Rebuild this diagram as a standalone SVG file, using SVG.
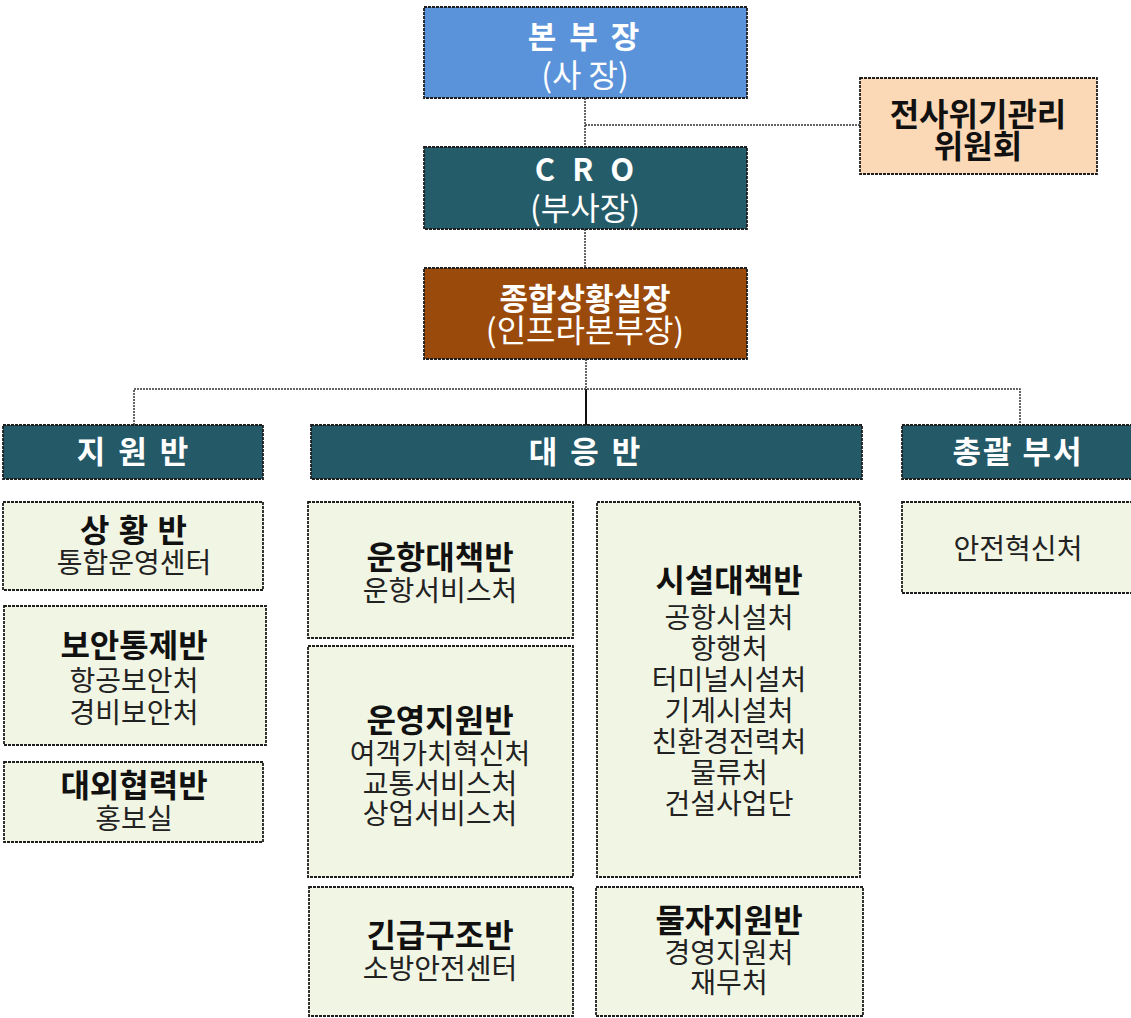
<svg xmlns="http://www.w3.org/2000/svg" width="1131" height="1018" viewBox="0 0 1131 1018">
<style>
  text { font-family: "Noto Sans CJK KR", "Noto Sans", "Liberation Sans", sans-serif; text-anchor: middle; }
  .box { stroke: #1e1e1e; stroke-width: 1.8; stroke-dasharray: 3 1; }
  .light { fill: #F1F5E3; }
  .hdr { fill: #245A68; }
  .t-w { fill: #ffffff; font-weight: bold; font-size: 31px; }
  .s-w { fill: #ffffff; font-size: 32px; }
  .t-b { fill: #111; font-weight: bold; font-size: 32px; }
  .s-b { fill: #222; font-size: 28px; }
  .conn { stroke: #333; stroke-width: 1.5; stroke-dasharray: 2 1; fill: none; }
  .solid { stroke: #111; stroke-width: 2; fill: none; }
</style>
<rect width="1131" height="1018" fill="#ffffff"/>

<g id="connectors">
  <line class="conn" x1="585" y1="98" x2="585" y2="147"/>
  <line class="conn" x1="585" y1="125" x2="860" y2="125"/>
  <line class="conn" x1="585" y1="229" x2="585" y2="268"/>
  <line class="conn" x1="586" y1="359" x2="586" y2="389"/>
  <line class="solid" x1="586" y1="389" x2="586" y2="425"/>
  <polyline class="conn" points="134,425 134,389 1020,389 1020,425"/>
</g>

<g id="node-ceo">
  <rect class="box" x="424" y="7" width="323" height="91" fill="#5A93DA"/>
  <text x="585" y="48" class="t-w" font-size="32" letter-spacing="3">본 부 장</text>
  <text x="585" y="87" class="s-w">(사 장)</text>
</g>

<g id="node-cro">
  <rect class="box" x="424" y="147" width="323" height="82" fill="#255C69"/>
  <text x="587" y="181" class="t-w" font-family="Liberation Sans, sans-serif" font-size="26" letter-spacing="5">C R O</text>
  <text x="585" y="220" class="s-w">(부사장)</text>
</g>

<g id="node-situation">
  <rect class="box" x="424" y="268" width="323" height="91" fill="#9A4A0B"/>
  <text x="585" y="310" class="t-w" font-size="34">종합상황실장</text>
  <text x="585" y="342" class="s-w" fill="#FBEFE0">(인프라본부장)</text>
</g>

<g id="node-committee">
  <rect class="box" x="860" y="78" width="237" height="96" fill="#FCD9B6"/>
  <text x="978" y="126" class="t-b" font-size="34">전사위기관리</text>
  <text x="978" y="158" class="t-b" font-size="34">위원회</text>
</g>

<g id="node-support-hdr">
  <rect class="box hdr" x="3" y="425" width="260" height="54"/>
  <text x="134" y="463" class="t-w" letter-spacing="3">지 원 반</text>
</g>

<g id="node-response-hdr">
  <rect class="box hdr" x="311" y="425" width="551" height="54"/>
  <text x="586" y="463" class="t-w" letter-spacing="3">대 응 반</text>
</g>

<g id="node-general-hdr">
  <rect class="box hdr" x="902" y="425" width="234" height="54"/>
  <text x="1018" y="463" class="t-w" letter-spacing="2">총괄 부서</text>
</g>

<g id="node-situation-team">
  <rect class="box light" x="3" y="502" width="260" height="88"/>
  <text x="134" y="542" class="t-b" letter-spacing="1">상 황 반</text>
  <text x="134" y="573" class="s-b" font-size="29">통합운영센터</text>
</g>

<g id="node-security-team">
  <rect class="box light" x="4" y="606" width="262" height="139"/>
  <text x="134" y="657" class="t-b">보안통제반</text>
  <text x="134" y="691" class="s-b">항공보안처</text>
  <text x="134" y="723" class="s-b">경비보안처</text>
</g>

<g id="node-external-team">
  <rect class="box light" x="4" y="762" width="259" height="80"/>
  <text x="134" y="797" class="t-b">대외협력반</text>
  <text x="134" y="829" class="s-b">홍보실</text>
</g>

<g id="node-flight-team">
  <rect class="box light" x="308" y="502" width="265" height="136"/>
  <text x="440" y="569" class="t-b">운항대책반</text>
  <text x="440" y="601" class="s-b">운항서비스처</text>
</g>

<g id="node-ops-team">
  <rect class="box light" x="308" y="646" width="265" height="231"/>
  <text x="440" y="732" class="t-b">운영지원반</text>
  <text x="440" y="764" class="s-b">여객가치혁신처</text>
  <text x="440" y="794" class="s-b">교통서비스처</text>
  <text x="440" y="824" class="s-b">상업서비스처</text>
</g>

<g id="node-rescue-team">
  <rect class="box light" x="309" y="887" width="264" height="129"/>
  <text x="440" y="947" class="t-b">긴급구조반</text>
  <text x="440" y="979" class="s-b">소방안전센터</text>
</g>

<g id="node-facility-team">
  <rect class="box light" x="597" y="502" width="263" height="375"/>
  <text x="729" y="592" class="t-b">시설대책반</text>
  <text x="729" y="628" class="s-b">공항시설처</text>
  <text x="729" y="659" class="s-b">항행처</text>
  <text x="729" y="690" class="s-b">터미널시설처</text>
  <text x="729" y="721" class="s-b">기계시설처</text>
  <text x="729" y="752" class="s-b">친환경전력처</text>
  <text x="729" y="783" class="s-b">물류처</text>
  <text x="729" y="814" class="s-b">건설사업단</text>
</g>

<g id="node-supply-team">
  <rect class="box light" x="596" y="887" width="267" height="129"/>
  <text x="729" y="932" class="t-b">물자지원반</text>
  <text x="729" y="963" class="s-b">경영지원처</text>
  <text x="729" y="993" class="s-b">재무처</text>
</g>

<g id="node-safety">
  <rect class="box light" x="902" y="502" width="234" height="91"/>
  <text x="1018" y="559" class="s-b">안전혁신처</text>
</g>
</svg>
